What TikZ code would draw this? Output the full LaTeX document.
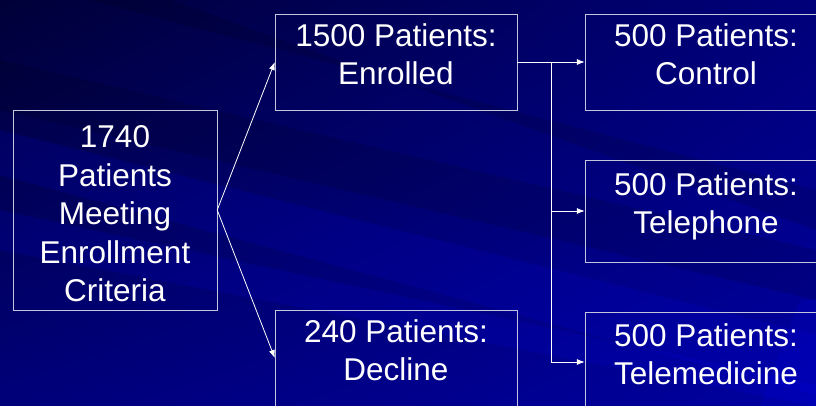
\documentclass[tikz,border=0pt]{standalone}
\usepackage{fontspec}
\setmainfont{Liberation Sans}
\usetikzlibrary{arrows.meta,positioning,shadings}
\definecolor{slidedark}{HTML}{000038}
\definecolor{slidemid}{HTML}{00007A}
\definecolor{slideblue}{HTML}{0000A0}
\definecolor{boxline}{HTML}{C4C4DC}
\tikzset
{
	patbox/.style   = {rectangle, draw=boxline, align=center, text=white, minimum width=242pt, minimum height=96pt, font=\fontsize{31.5}{38.5}\selectfont, text depth=16pt},
	startbox/.style = {rectangle, draw=boxline, align=center, text=white, minimum width=204pt, minimum height=200pt, font=\fontsize{31.5}{38.5}\selectfont, text height=183pt, text depth=0pt},
	flow/.style     = {draw=white, line width=0.8pt, -{Latex[length=8pt,width=6pt]}},
	litstreak/.style  = {fill=blue, opacity=0.12},
	darkstreak/.style = {fill=black, opacity=0.12}
}

\begin{document}
\begin{tikzpicture}[x=1pt, y=-1pt]
\useasboundingbox (0,0) rectangle (816,406);
\clip (0,0) rectangle (816,406);
% background
\shade[upper left=slidedark, upper right=slidemid, lower left=slidemid, lower right=slideblue] (0,0) rectangle (816,406);
\fill[litstreak] (0,130) -- (0,175) -- (816,395) -- (816,335) -- cycle;
\fill[darkstreak] (0,60) -- (0,110) -- (816,300) -- (816,250) -- cycle;
\fill[litstreak] (0,210) -- (0,250) -- (816,406) -- (816,385) -- cycle;
\fill[darkstreak] (90,0) -- (170,0) -- (816,230) -- (816,190) -- cycle;
\fill[litstreak] (760,406) -- (800,300) -- (816,300) -- (816,406) -- cycle;

\node[startbox] (criteria) at (115,210) {1740\\Patients\\Meeting\\Enrollment\\Criteria};
\node[patbox] (enrolled) at (396,62) {1500 Patients:\\Enrolled};
\node[patbox] (decline) at (396,358) {240 Patients:\\Decline};
\node[patbox] (control) at (706,62) {500 Patients:\\Control};
\node[patbox, minimum height=102pt] (telephone) at (706,211) {500 Patients:\\Telephone};
\node[patbox, minimum height=100pt] (telemed) at (706,362) {500 Patients:\\Telemedicine};

\coordinate[right=34pt of enrolled.east] (branch);

\draw[flow] (criteria.east) -- (enrolled.west);
\draw[flow] (criteria.east) -- (decline.west);
\draw[flow] (enrolled.east) -- (control.west);
\draw[flow] (branch) |- (telephone.west);
\draw[flow] (branch) |- (telemed.west);
\end{tikzpicture}
\end{document}
